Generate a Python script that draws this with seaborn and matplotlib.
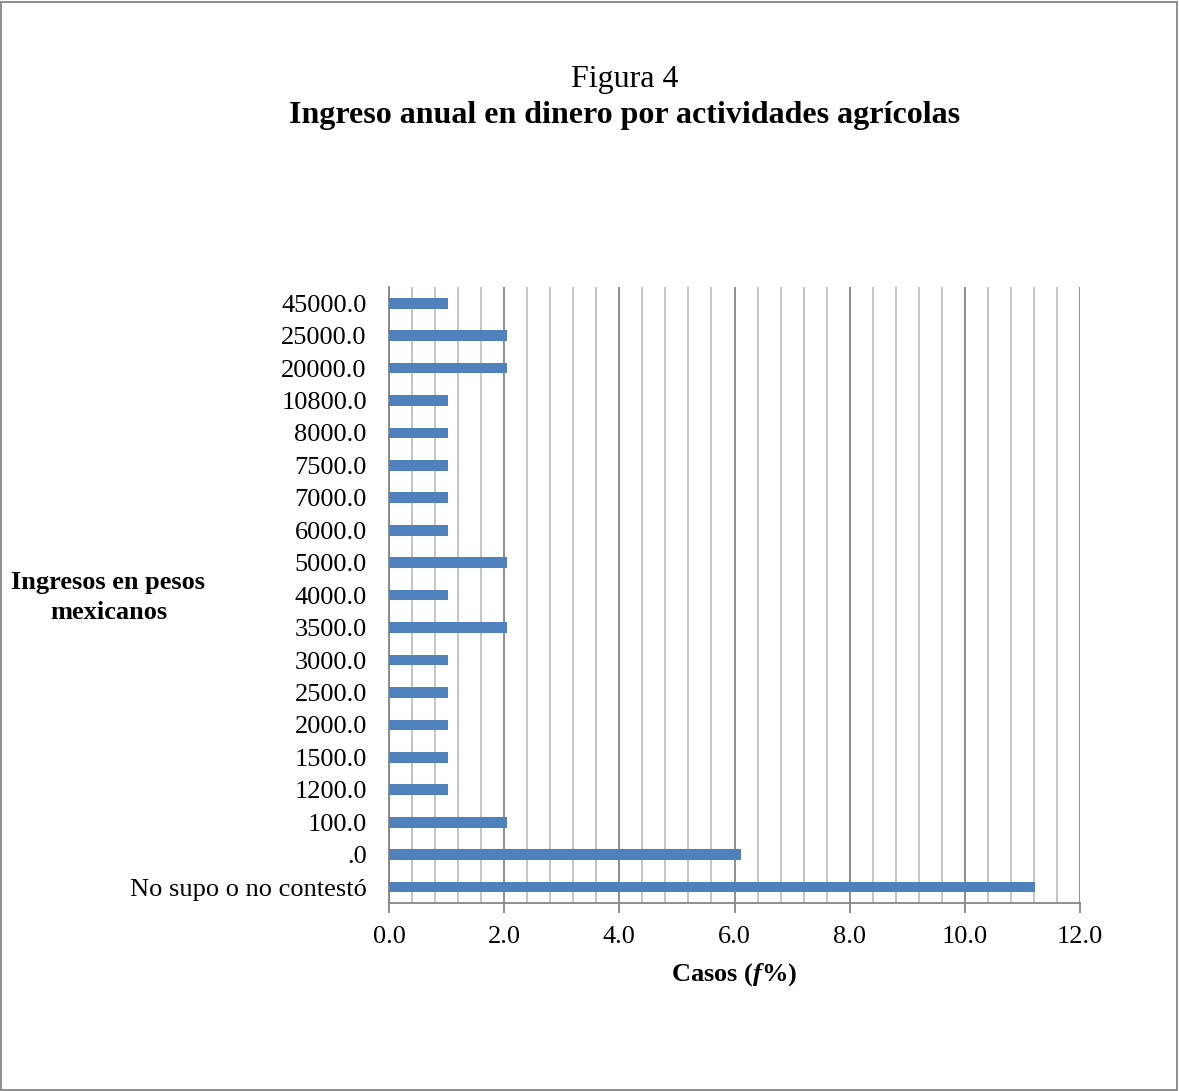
import matplotlib
matplotlib.use("Agg")
import matplotlib.pyplot as plt
from matplotlib.ticker import MultipleLocator, FormatStrFormatter
from matplotlib.patches import Rectangle
import pandas as pd
import seaborn as sns

# categories from bottom to top as in the picture
categorias = ["No supo o no contestó", ".0", "100.0", "1200.0", "1500.0", "2000.0",
              "2500.0", "3000.0", "3500.0", "4000.0", "5000.0", "6000.0", "7000.0",
              "7500.0", "8000.0", "10800.0", "20000.0", "25000.0", "45000.0"]
porcentajes = [11.22, 6.12, 2.04, 1.02, 1.02, 1.02,
               1.02, 1.02, 2.04, 1.02, 2.04, 1.02, 1.02,
               1.02, 1.02, 1.02, 2.04, 2.04, 1.02]

df = pd.DataFrame({"Ingreso": categorias, "Casos": porcentajes})
# seaborn draws the first category at the top, so reverse
df = df.iloc[::-1].reset_index(drop=True)

sns.set_theme(style="white")
plt.rcParams["font.family"] = ["Liberation Serif", "DejaVu Serif"]
plt.rcParams["text.color"] = "black"
plt.rcParams["xtick.color"] = "black"
plt.rcParams["ytick.color"] = "black"
plt.rcParams["axes.labelcolor"] = "black"
plt.rcParams["mathtext.fontset"] = "custom"
plt.rcParams["mathtext.bf"] = "Liberation Serif:bold:italic"

fig = plt.figure(figsize=(11.79, 10.91), dpi=100)
ax = fig.add_axes([0.330, 0.172, 0.586, 0.565])

sns.barplot(data=df, x="Casos", y="Ingreso", orient="h", color="#4f81bd",
            saturation=1, width=0.33, linewidth=0, ax=ax, zorder=3)

ax.set_xlim(0, 12)
ax.xaxis.set_major_locator(MultipleLocator(2))
ax.xaxis.set_minor_locator(MultipleLocator(0.4))
ax.xaxis.set_major_formatter(FormatStrFormatter("%.1f"))
ax.grid(axis="x", which="minor", color="#bfbfbf", linewidth=1.3, zorder=0)
ax.grid(axis="x", which="major", color="#868686", linewidth=1.3, zorder=0)
ax.set_axisbelow(True)

for s in ["top", "right"]:
    ax.spines[s].set_visible(False)
ax.spines["left"].set_color("#868686")
ax.spines["bottom"].set_color("#868686")
ax.spines["left"].set_linewidth(1.3)
ax.spines["bottom"].set_linewidth(1.3)

ax.tick_params(axis="x", which="major", bottom=True, length=7, width=1.3,
               color="#868686", labelcolor="black", labelsize=19, pad=9)
ax.tick_params(axis="x", which="minor", bottom=False)
ax.tick_params(axis="y", left=False, length=0, labelsize=19, pad=16)

ax.set_xlabel("Casos ($\\mathbf{f}$%)", fontsize=19, fontweight="bold", labelpad=10)
ax.set_ylabel("")

fig.text(0.092, 0.452, "Ingresos en pesos\nmexicanos", ha="center", va="center",
         fontsize=19, fontweight="bold", linespacing=1.4)

fig.text(0.530, 0.927, "Figura 4", ha="center", va="center", fontsize=23)
fig.text(0.530, 0.8945, "Ingreso anual en dinero por actividades agrícolas",
         ha="center", va="center", fontsize=23, fontweight="bold")

fig.patches.append(Rectangle((0.001, 0.001), 0.997, 0.997, transform=fig.transFigure,
                             fill=False, edgecolor="#868686", linewidth=1.3))

fig.savefig("out.png", dpi=100, facecolor="white")
